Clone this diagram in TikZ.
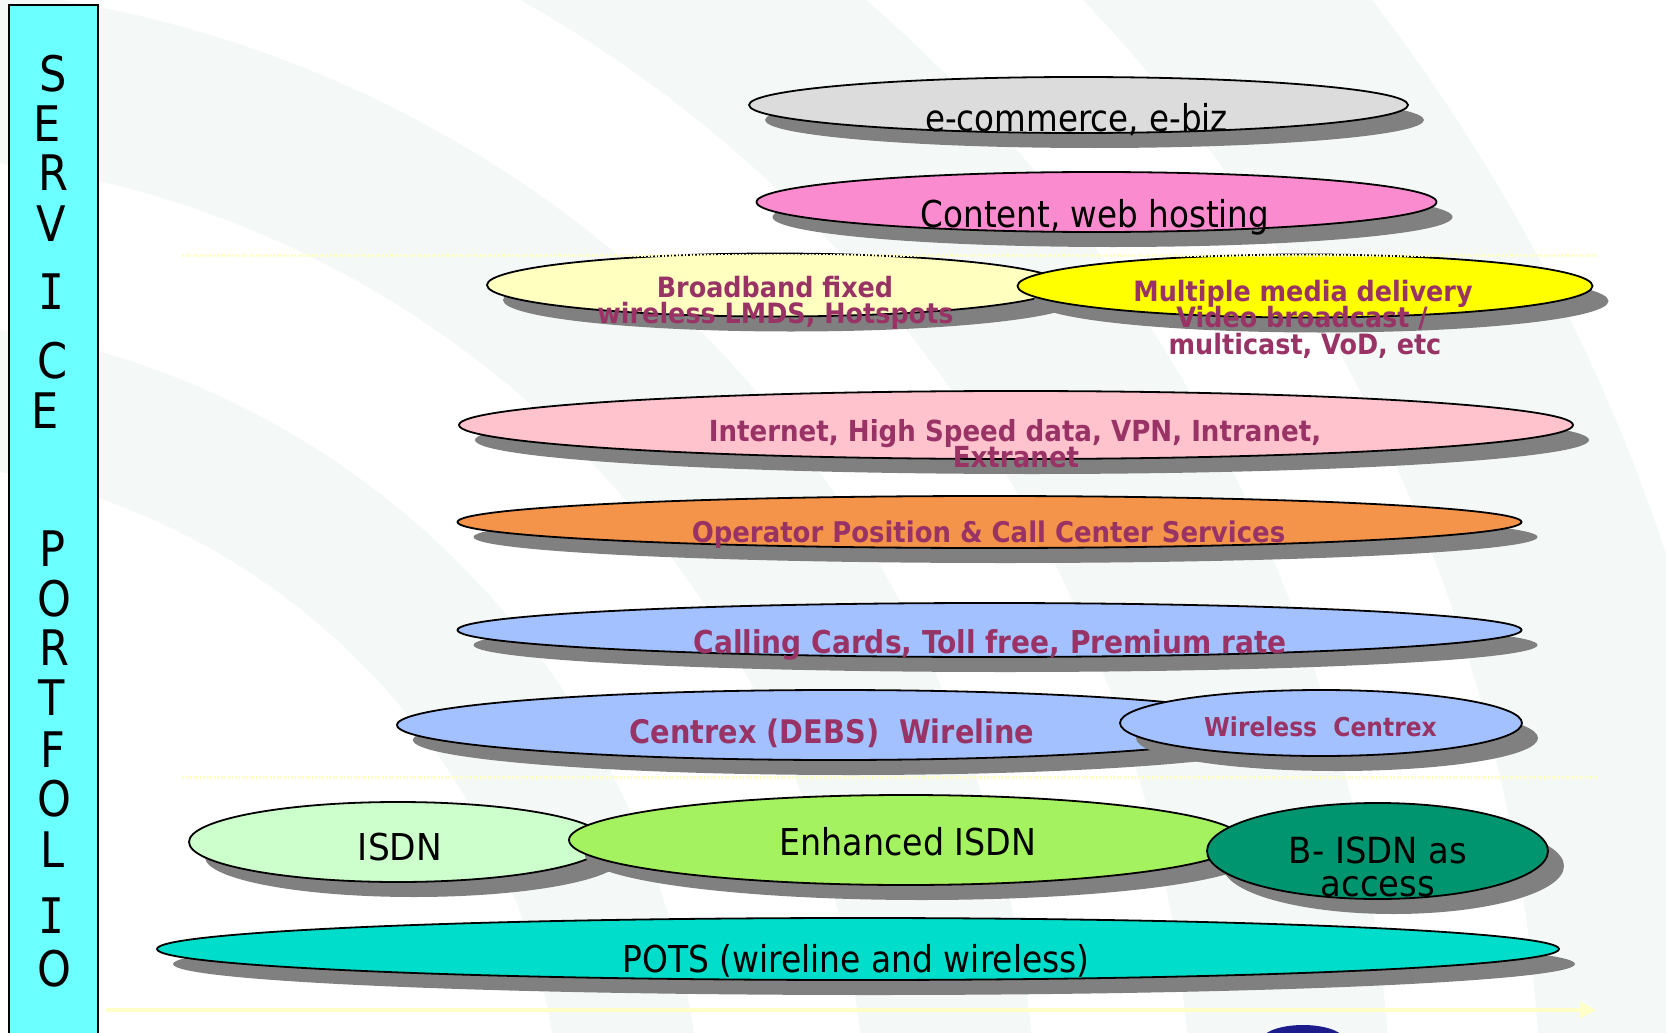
\documentclass[tikz,border=0pt]{standalone}
\usepackage{fontspec}
\setmainfont{DejaVu Sans}
\newfontfamily\slabfont{DejaVu Sans Mono}
\usepackage{graphicx}
\usetikzlibrary{shapes.geometric,arrows.meta}

\definecolor{barcyan}{HTML}{6CFFFF}
\definecolor{shadowgray}{HTML}{808080}
\definecolor{plum}{HTML}{993366}
\definecolor{ecomgray}{HTML}{DCDCDC}
\definecolor{contentpink}{HTML}{FA8BCF}
\definecolor{broadyellow}{HTML}{FFFFC0}
\definecolor{mediayellow}{HTML}{FFFF00}
\definecolor{netpink}{HTML}{FFC3CE}
\definecolor{operorange}{HTML}{F4934A}
\definecolor{callblue}{HTML}{A3C1FF}
\definecolor{isdngreen}{HTML}{CCFFCC}
\definecolor{eisdngreen}{HTML}{A5F260}
\definecolor{bisdnteal}{HTML}{00946F}
\definecolor{potsturq}{HTML}{00DECB}
\definecolor{guideyellow}{HTML}{FFFFC8}
\definecolor{ripple}{HTML}{F4F9F8}
\definecolor{logoblue}{HTML}{1C1C8C}

\tikzset{
  layerbox/.style={ellipse, draw=black, line width=1.8pt, inner sep=0pt, outer sep=0pt},
  layershadow/.style={fill=shadowgray},
  ptxt/.style={text=plum, font=\bfseries, inner sep=0pt, anchor=base},
  btxt/.style={text=black, inner sep=0pt, anchor=base},
  vletter/.style={inner sep=0pt, font=\fontsize{49}{49}\selectfont},
  guideline/.style={draw=guideyellow, line width=3pt, dash pattern=on 2pt off 1.5pt},
  axisarrow/.style={draw=guideyellow, line width=4pt, -{Triangle[length=16pt,width=16pt]}},
}

% sized and horizontally condensed text
\newcommand\fit[3]{{\fontsize{#1}{#1}\selectfont\scalebox{#2}[1]{#3}}}
% one service layer: name, centre x, centre y, x radius, y radius, fill
\newcommand\layer[6]{%
  \fill[layershadow] (#2+16,#3+15) ellipse [x radius=#4, y radius=#5];
  \node[layerbox, fill=#6, minimum width=#4*2pt, minimum height=#5*2pt] (#1) at (#2,#3) {};
}

\begin{document}
\begin{tikzpicture}[x=1pt,y=-1pt]
\useasboundingbox (0,0) rectangle (1666,1033);
\fill[white] (0,0) rectangle (1666,1033);

% faint wireless ripples in the background
\begin{scope}
  \clip (0,0) rectangle (1666,1033);
  \foreach \r/\w in {760/140, 1080/170, 1420/200, 1780/220}
    \draw[ripple, line width=\w pt] (-128,1150) circle [radius=\r];
\end{scope}

% service layers, bottom of each stack drawn first
\layer{ecom}{1078.5}{105}{329.5}{28}{ecomgray}
\layer{content}{1096.5}{202}{340}{30}{contentpink}
\layer{broad}{775}{285}{288}{31.5}{broadyellow}
\layer{media}{1305}{286}{287.5}{31.5}{mediayellow}
\layer{net}{1016}{425}{557}{34}{netpink}
\layer{oper}{989.5}{522}{532}{26}{operorange}
\layer{call}{989.5}{630}{532}{27}{callblue}
\layer{centrex}{835}{725}{438}{35}{callblue}
\layer{wless}{1321}{723}{201}{33}{callblue}
\layer{isdn}{398}{842}{209}{40}{isdngreen}
\layer{eisdn}{906}{840}{337}{45}{eisdngreen}
\layer{bisdn}{1377.5}{851}{170.5}{48}{bisdnteal}
\layer{pots}{858}{949}{701}{31}{potsturq}

% dotted separators and the base arrow
\coordinate (sepAl) at (182,255);  \coordinate (sepAr) at (1597,255);
\coordinate (sepBl) at (182,777);  \coordinate (sepBr) at (1597,777);
\coordinate (axisL) at (106,1010); \coordinate (axisR) at (1596,1010);
\draw[guideline] (sepAl) -- (sepAr);
\draw[guideline] (sepBl) -- (sepBr);
\draw[axisarrow] (axisL) -- (axisR);

% labels
\node[btxt] (tEcom) at (1076.5,131.5) {\fit{37}{0.88}{e-commerce, e-biz}};
\node[btxt] (tContent) at (1095,227) {\fit{37}{0.88}{Content, web hosting}};
\node[ptxt] (tBroadA) at (775,297) {\fit{28}{0.91}{Broadband fixed}};
\node[ptxt] (tBroadB) at (775.5,323) {\fit{28}{0.91}{wireless LMDS, Hotspots}};
\node[ptxt] (tMediaA) at (1303,301) {\fit{28}{0.91}{Multiple media delivery}};
\node[ptxt] (tMediaB) at (1302,327) {\fit{28}{0.91}{Video broadcast /}};
\node[ptxt] (tMediaC) at (1305,354) {\fit{28}{0.91}{multicast, VoD, etc}};
\node[ptxt] (tNetA) at (1015,441) {\fit{29}{0.9}{Internet, High Speed data, VPN, Intranet,}};
\node[ptxt] (tNetB) at (1016,467) {\fit{29}{0.9}{Extranet}};
\node[ptxt] (tOper) at (988.5,542.5) {\fit{28.5}{0.91}{Operator Position \& Call Center Services}};
\node[ptxt] (tCall) at (990,653) {\fit{31.5}{0.89}{Calling Cards, Toll free, Premium rate}};
\node[ptxt] (tCentrex) at (832,743) {\fit{32.5}{0.885}{Centrex (DEBS)\ \ Wireline}};
\node[ptxt] (tWless) at (1320.5,736) {\fit{26}{0.9}{Wireless\ \ Centrex}};
\node[btxt] (tIsdn) at (400,860.5) {\fit{37}{0.93}{ISDN}};
\node[btxt] (tEisdn) at (908,855) {\fit{37}{0.9}{Enhanced ISDN}};
\node[btxt] (tBisdnA) at (1378,863) {\fit{36}{0.94}{B- ISDN as}};
\node[btxt] (tBisdnB) at (1378,896) {\fit{36}{0.94}{access}};
\node[btxt] (tPots) at (856,972) {\fit{37}{0.89}{POTS (wireline and wireless)}};

% vertical title bar
\draw[fill=barcyan, line width=2pt] (8.5,5) rectangle (98,1045);
\foreach \ch/\yy/\xx in {S/74/53, E/124/47, R/173/53, V/224/51, C/361/53, E/411/45,
    P/549/53, O/599/54, R/648/54, T/698/52, F/750/53, O/799/54, L/850/53, O/969/54}
  \node[vletter] (v\yy) at (\xx,\yy) {\scalebox{0.88}[1]{\ch}};
\node[vletter] (v292) at (51,292) {\slabfont\scalebox{0.88}[1]{I}};
\node[vletter] (v916) at (51,916) {\slabfont\scalebox{0.88}[1]{I}};

% logo edge at the bottom
\fill[logoblue] (1303,1041) ellipse [x radius=42, y radius=16];
\end{tikzpicture}
\end{document}
